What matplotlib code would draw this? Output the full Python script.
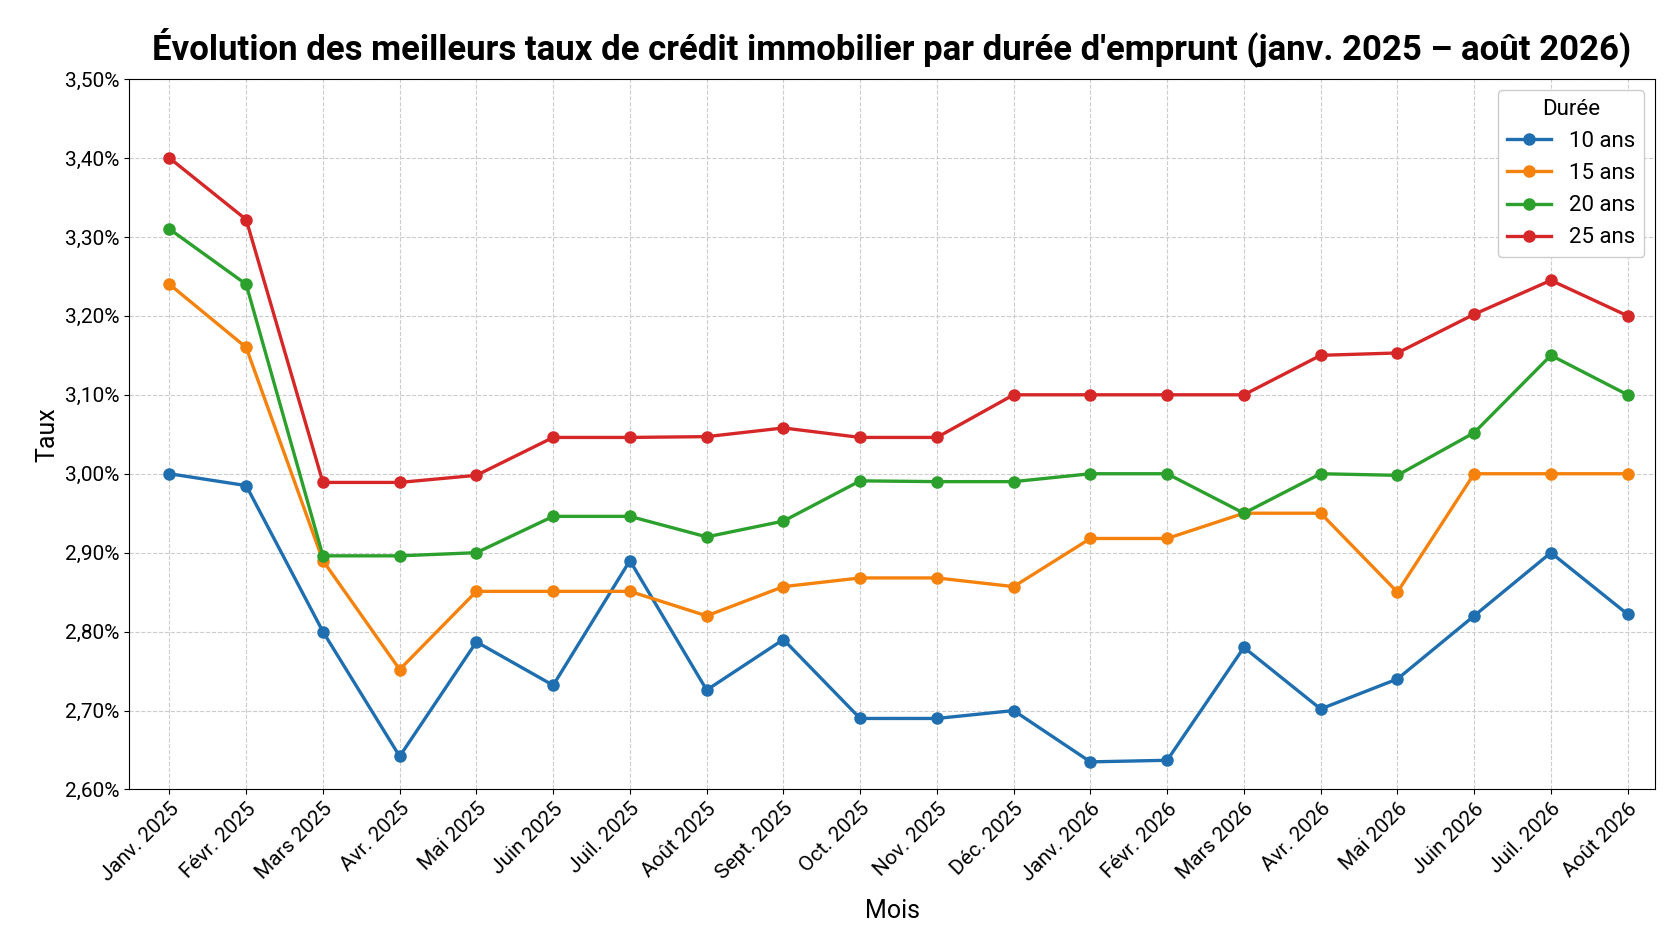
import matplotlib
matplotlib.use("Agg")
import matplotlib.pyplot as plt
from matplotlib.ticker import FuncFormatter

plt.rcParams['font.family'] = ['Roboto', 'DejaVu Sans']

mois = ['Janv. 2025', 'Févr. 2025', 'Mars 2025', 'Avr. 2025', 'Mai 2025', 'Juin 2025',
        'Juil. 2025', 'Août 2025', 'Sept. 2025', 'Oct. 2025', 'Nov. 2025', 'Déc. 2025',
        'Janv. 2026', 'Févr. 2026', 'Mars 2026', 'Avr. 2026', 'Mai 2026', 'Juin 2026',
        'Juil. 2026', 'Août 2026']
taux_10 = [3.00, 2.985, 2.80, 2.642, 2.787, 2.732, 2.89, 2.726, 2.79, 2.69, 2.69, 2.70,
           2.635, 2.637, 2.78, 2.702, 2.74, 2.82, 2.90, 2.822]
taux_15 = [3.24, 3.16, 2.89, 2.752, 2.851, 2.851, 2.851, 2.82, 2.857, 2.868, 2.868, 2.857,
           2.918, 2.918, 2.95, 2.95, 2.85, 3.00, 3.00, 3.00]
taux_20 = [3.31, 3.24, 2.896, 2.896, 2.90, 2.946, 2.946, 2.92, 2.94, 2.991, 2.99, 2.99,
           3.00, 3.00, 2.95, 3.00, 2.998, 3.052, 3.15, 3.10]
taux_25 = [3.40, 3.322, 2.989, 2.989, 2.998, 3.046, 3.046, 3.047, 3.058, 3.046, 3.046, 3.10,
           3.10, 3.10, 3.10, 3.15, 3.153, 3.202, 3.245, 3.20]

series = [('10 ans', taux_10, '#1f6fb0'), ('15 ans', taux_15, '#f5820d'),
          ('20 ans', taux_20, '#2ca02c'), ('25 ans', taux_25, '#d62728')]

fig = plt.figure(figsize=(16.72, 9.41), dpi=100)
ax = fig.add_axes([0.077, 0.161, 0.913, 0.755])
x = list(range(len(mois)))
for label, vals, col in series:
    ax.plot(x, vals, marker='o', markersize=8, linewidth=2.4, color=col, label=label)

ax.set_xlim(-0.53, 19.36)
ax.set_ylim(2.60, 3.50)
ax.set_yticks([2.6 + 0.1 * i for i in range(10)])
ax.yaxis.set_major_formatter(FuncFormatter(lambda v, p: f"{v:.2f}%".replace('.', ',')))
ax.set_xticks(x)
ax.set_xticklabels(mois, rotation=45, ha='right', rotation_mode='anchor')
ax.tick_params(labelsize=15)
ax.grid(True, linestyle='--', color='#cccccc', linewidth=0.8)
ax.set_xlabel('Mois', fontsize=18, labelpad=10)
ax.set_ylabel('Taux', fontsize=18)
ax.set_title("Évolution des meilleurs taux de crédit immobilier par durée d'emprunt (janv. 2025 – août 2026)",
             fontsize=25, fontweight='bold', pad=14)
leg = ax.legend(title='Durée', loc='upper right', fontsize=16, title_fontsize=16, framealpha=1)
fig.savefig('out.png', dpi=100)
